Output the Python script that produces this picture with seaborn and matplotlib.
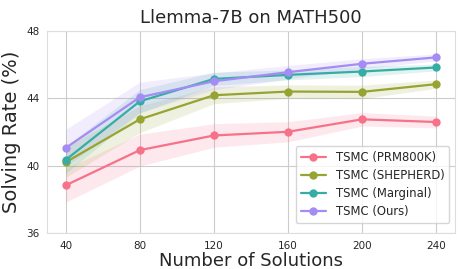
import numpy as np
import pandas as pd
import matplotlib
matplotlib.use("Agg")
import matplotlib.pyplot as plt
import seaborn as sns

# values
n_solutions = [40, 80, 120, 160, 200, 240]
methods = ["TSMC (PRM800K)", "TSMC (SHEPHERD)", "TSMC (Marginal)", "TSMC (Ours)"]

prm800k = [38.83, 40.92, 41.79, 42.01, 42.75, 42.59]
shepherd = [40.20, 42.75, 44.18, 44.40, 44.38, 44.84]
marginal = [40.34, 43.82, 45.15, 45.39, 45.59, 45.83]
ours = [41.05, 44.06, 45.01, 45.55, 46.05, 46.43]

# half-width of the shaded bands
prm800k_err = [1.0, 0.95, 0.7, 0.6, 0.4, 0.35]
shepherd_err = [0.9, 0.8, 0.5, 0.4, 0.4, 0.25]
marginal_err = [0.8, 0.7, 0.4, 0.3, 0.3, 0.2]
ours_err = [1.1, 0.9, 0.5, 0.4, 0.3, 0.2]

series = [prm800k, shepherd, marginal, ours]
errors = [prm800k_err, shepherd_err, marginal_err, ours_err]

rows = []
for name, vals in zip(methods, series):
    for n, v in zip(n_solutions, vals):
        rows.append({"Number of Solutions": n, "Solving Rate": v, "Method": name})
df = pd.DataFrame(rows)

sns.set_style("whitegrid")
palette = sns.color_palette("husl", 4)

fig = plt.figure(figsize=(4.58, 2.69), dpi=100)
ax = fig.add_axes([0.103, 0.134, 0.890, 0.751])

for color, vals, err in zip(palette, series, errors):
    lo = np.array(vals) - np.array(err)
    hi = np.array(vals) + np.array(err)
    ax.fill_between(n_solutions, lo, hi, color=color, alpha=0.15, linewidth=0)

sns.lineplot(data=df, x="Number of Solutions", y="Solving Rate", hue="Method",
             palette=palette, marker="o", markersize=6, markeredgewidth=0,
             linewidth=1.6, ax=ax)

ax.set_xlim(30, 250)
ax.set_ylim(36, 48)
ax.set_xticks(n_solutions)
ax.set_yticks([36, 40, 44, 48])
ax.tick_params(axis="both", labelsize=7.5, pad=2)
ax.set_title("Llemma-7B on MATH500", fontsize=13, pad=6)
ax.set_xlabel("Number of Solutions", fontsize=13, labelpad=1)
ax.set_ylabel("Solving Rate (%)", fontsize=14, labelpad=4)
for s in ax.spines.values():
    s.set_color("#dddddd")

ax.legend(loc="lower right", fontsize=8.4, frameon=True, borderpad=0.4,
          labelspacing=0.45, handlelength=2.2, bbox_to_anchor=(1.0, 0.02))

fig.savefig("out.png", dpi=100)
